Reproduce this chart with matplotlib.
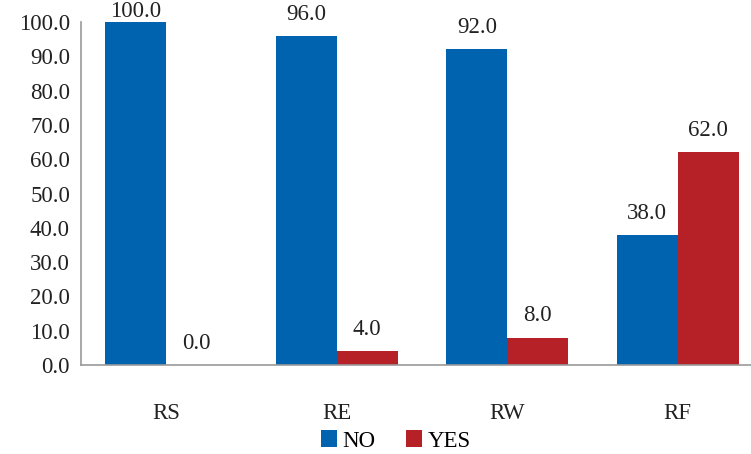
import matplotlib.pyplot as plt
import numpy as np

categories = ["RS", "RE", "RW", "RF"]
no_values = [100.0, 96.0, 92.0, 38.0]
yes_values = [0.0, 4.0, 8.0, 62.0]

plt.rcParams['font.family'] = ['Liberation Serif', 'DejaVu Serif']

fig = plt.figure(figsize=(7.51, 4.54), dpi=100)
ax = fig.add_axes([0.108, 0.196, 0.908, 0.7555])

x = np.arange(len(categories))
w = 0.357
bars_no = ax.bar(x - w / 2, no_values, w, color="#0063B0", label="NO")
bars_yes = ax.bar(x + w / 2, yes_values, w, color="#B52126", label="YES")

# value labels above each bar
for bars in (bars_no, bars_yes):
    for b in bars:
        v = b.get_height()
        off = 0 if v >= 99 else 8
        ax.annotate(f"{v:.1f}", (b.get_x() + b.get_width() / 2, v),
                    xytext=(0, off), textcoords="offset points",
                    ha="center", va="bottom", fontsize=16.5, color="#222222",
                    annotation_clip=False)

ax.set_xlim(-0.5, 3.5)
ax.set_ylim(0, 100)
ax.set_yticks(np.arange(0, 101, 10))
ax.set_yticklabels([f"{t:.1f}" for t in np.arange(0, 101, 10)])
ax.set_xticks(x)
ax.set_xticklabels(categories)
ax.tick_params(axis="both", length=0, labelsize=16.5, colors="#222222")
ax.tick_params(axis="x", pad=27)
ax.tick_params(axis="y", pad=8)

for s in ("top", "right"):
    ax.spines[s].set_visible(False)
for s in ("left", "bottom"):
    ax.spines[s].set_color("#999999")
    ax.spines[s].set_linewidth(1.2)

fig.legend(loc="lower center", bbox_to_anchor=(0.527, -0.04), ncol=2, frameon=False,
           fontsize=16.5, handlelength=0.7, handleheight=0.7, handletextpad=0.25,
           columnspacing=1.3)

plt.savefig("out.png")
